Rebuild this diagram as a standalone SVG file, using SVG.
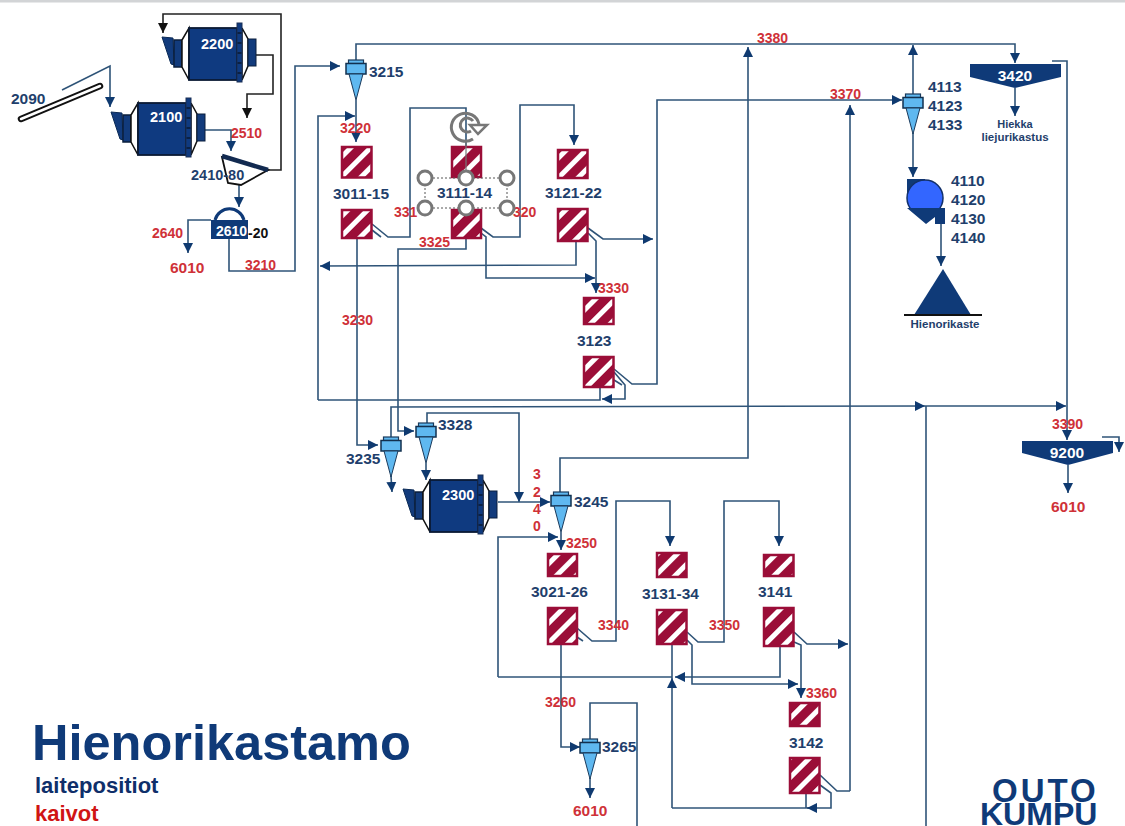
<svg xmlns="http://www.w3.org/2000/svg" width="1125" height="826" viewBox="0 0 1125 826">
<style>
text{font-family:"Liberation Sans",Arial,sans-serif;font-weight:bold}
.c{fill:none;stroke:#2f5478;stroke-width:1.6;stroke-linejoin:miter}
.a{marker-end:url(#a)}
.k{fill:none;stroke:#222;stroke-width:1.6}
.ka{marker-end:url(#k)}
.n{fill:#1f3f6c;font-size:15.5px}
.r{fill:#cf3138;font-size:14px}
.rb{fill:#cf3138;font-size:15.5px}
.w{fill:#fff;font-size:14.5px}
.t{fill:url(#h);stroke:#9b0e38;stroke-width:2.5}
.hd{fill:#fff;stroke:#777;stroke-width:3}
.th{fill:#0f3a78;stroke:none}
.m{text-anchor:middle}
</style>
<defs>
<marker id="a" markerUnits="userSpaceOnUse" markerWidth="11" markerHeight="11" refX="10" refY="5.5" orient="auto"><path d="M0,0.5 L10,5.5 L0,10.5z" fill="#0f3a70"/></marker>
<marker id="k" markerUnits="userSpaceOnUse" markerWidth="11" markerHeight="11" refX="10" refY="5.5" orient="auto"><path d="M0,0.5 L10,5.5 L0,10.5z" fill="#111"/></marker>
<pattern id="h" width="14" height="14" patternUnits="userSpaceOnUse" patternTransform="rotate(45)"><rect width="14" height="14" fill="#9b0e38"/><rect width="5" height="14" fill="#fff"/></pattern>
<g id="mill">
<path d="M111,112 L122,113 L123,140 L120,139z" fill="#123b7c" stroke="#0b2a55" stroke-width="1"/>
<rect x="123" y="115" width="8" height="27" fill="#123b7c" stroke="#0b1f3c" stroke-width="1.5"/>
<path d="M131,115 L138,103 L138,155 L131,142z" fill="#fff" stroke="#111" stroke-width="1.5"/>
<rect x="138" y="103" width="48" height="52" fill="#0f3a80" stroke="#0a1a33" stroke-width="1.8"/>
<path d="M191,103 L197,114 L197,141 L191,155z" fill="#fff" stroke="#111" stroke-width="1.5"/>
<rect x="197" y="114" width="8" height="27" fill="#123b7c" stroke="#0b1f3c" stroke-width="1"/>
<rect x="186" y="98" width="5" height="59" fill="#0f3a80" stroke="#1a2f55" stroke-width="1"/>
<path d="M186.5,108H190.5M186.5,118H190.5M186.5,128H190.5M186.5,138H190.5M186.5,148H190.5" stroke="#0a1a33" stroke-width="1.5"/>
</g>
<g id="cy">
<rect x="-7.5" y="0" width="15" height="3.5" fill="#5fb8f0" stroke="#1a3a5c" stroke-width="1.2"/>
<rect x="-10" y="3.5" width="20" height="10.5" fill="#5fb8f0" stroke="#12304f" stroke-width="1.5"/>
<path d="M-7,14 L7,14 L0,40z" fill="#5fb8f0" stroke="#1a3a5c" stroke-width="1"/>
</g>
</defs>
<rect width="1125" height="826" fill="#fff"/>
<rect width="1125" height="2.5" fill="#d2d4d6"/>

<g id="connectors">
<path class="c a" d="M62,90 L110,66 V107"/>
<path class="k ka" d="M268,170 H281 V14 H163 V33"/>
<path class="k ka" d="M256,55 H273 V94 H247 V118"/>
<path class="c a" d="M205,130 H231 V151"/>
<path class="c a" d="M239,185 V207"/>
<path class="c a" d="M211,220 H188 V253"/>
<path class="c a" d="M229,239 V271 H295 V66 H340"/>
<path class="c a" d="M356,100 V142"/>
<path class="c a" d="M356,60 V44 H1015 V63"/>
<path class="c a" d="M850,791 V105"/>
<path class="c a" d="M318,400 V116 H355"/>
<path class="c" d="M600,387 V400 H318"/>
<path class="c a" d="M614,372 L625,385 V399 H602"/>
<path class="c" d="M614,380 L622,385"/>
<path class="c" d="M372,224 L388,237 H410 V108 H466 V148"/>
<path class="c" d="M372,230 L381,237"/>
<path class="c a" d="M481,228 L493,237 H520 V105 H574 V145"/>
<path class="c a" d="M466,238 V249 H398 V431 H414"/>
<path class="c a" d="M481,233 L486,237 V278 H595"/>
<path class="c a" d="M588,233 L596,241 V293"/>
<path class="c a" d="M588,228 L603,239 H653"/>
<path class="c a" d="M576,241 V265 L320,266"/>
<path class="c a" d="M357,238 V445 H378"/>
<path class="c a" d="M614,369 L632,384 H657 V100 H902"/>
<path class="c a" d="M391,437 V407 L925,406"/>
<path class="c a" d="M925,406 H1066"/>
<path class="c" d="M926,406 V826"/>
<path class="c a" d="M391,476 L392,492"/>
<path class="c a" d="M426,463 V480"/>
<path class="c a" d="M427,423 V413 H519 V502"/>
<path class="c a" d="M498,502 H550"/>
<path class="c a" d="M560,492 V458 H748 V47"/>
<path class="c a" d="M561,532 V550"/>
<path class="c a" d="M498,677 V537 H558"/>
<path class="c" d="M498,677 H672"/>
<path class="c a" d="M780,645 V677 H675"/>
<path class="c a" d="M577,628 L592,641 H616 V501 H670 V546"/>
<path class="c" d="M577,637 L583,641"/>
<path class="c a" d="M687,632 L698,642 H724 V501 H779 V546"/>
<path class="c a" d="M687,640 L692,645 V684 H798"/>
<path class="c a" d="M794,632 L807,644 H848"/>
<path class="c a" d="M794,642 L801,645 V698"/>
<path class="c a" d="M672,808 V678"/>
<path class="c" d="M672,644 V678"/>
<path class="c" d="M672,808 H812"/>
<path class="c" d="M806,793 V808"/>
<path class="c a" d="M820,785 L831,793 V808 H807"/>
<path class="c" d="M820,775 L837,791 H850"/>
<path class="c a" d="M561,644 V747 H580"/>
<path class="c a" d="M590,778 V798"/>
<path class="c" d="M590,739 V703 H637 V826"/>
<path class="c a" d="M913,94 V45"/>
<path class="c a" d="M913,133 V177"/>
<path class="c a" d="M941,224 V266"/>
<path class="c a" d="M1015,88 V116"/>
<path class="c a" d="M1052,61 H1067 V440"/>
<path class="c a" d="M1068,465 V493"/>
<path class="c a" d="M1102,437 H1119 V452"/>
</g>

<g id="n2090">
<path d="M21,119 L100,86" stroke="#111" stroke-width="6.5" stroke-linecap="round"/>
<path d="M21,119 L100,86" stroke="#fff" stroke-width="2.5" stroke-linecap="round"/>
<text class="n" x="11" y="104">2090</text>
</g>
<g id="n2200"><use href="#mill" x="51" y="-75"/><text class="w" x="201" y="49">2200</text></g>
<g id="n2100"><use href="#mill"/><text class="w" x="150" y="122">2100</text></g>
<g id="n2300"><use href="#mill" x="292" y="377"/><text class="w" x="442" y="500">2300</text></g>
<g id="n2410">
<path d="M222,157 L268,170 L241,185 L228,183z" fill="#fff" stroke="#111" stroke-width="1.8"/>
<path d="M222,156 L268,170" stroke="#122a50" stroke-width="4.5"/>
<text class="n" x="191" y="180" style="font-size:14.5px">2410-80</text>
</g>
<g id="n2610">
<path d="M215,220 A15,15 0 0 1 244,220" fill="none" stroke="#0f3a78" stroke-width="3"/>
<rect x="211" y="220" width="37" height="19" class="th"/>
<text class="w" x="216" y="236" style="font-size:14px">2610</text>
<text x="248" y="238" fill="#111" font-size="14">-20</text>
</g>
<g id="n3215"><use href="#cy" x="356" y="60"/><text class="n" x="369" y="77">3215</text></g>
<g id="n3235"><use href="#cy" x="391" y="437"/><text class="n" x="346" y="464">3235</text></g>
<g id="n3328"><use href="#cy" x="426" y="423"/><text class="n" x="438" y="430">3328</text></g>
<g id="n3245"><use href="#cy" x="561" y="492"/><text class="n" x="574" y="507">3245</text></g>
<g id="n3265"><use href="#cy" x="590" y="739"/><text class="n" x="602" y="752">3265</text></g>
<g id="n4113"><use href="#cy" x="913" y="94"/>
<text class="n" x="928" y="92">4113</text><text class="n" x="928" y="111">4123</text><text class="n" x="928" y="130">4133</text></g>

<g id="t3011"><rect class="t" x="342" y="147" width="29.5" height="30.5"/><rect class="t" x="342" y="210" width="29.5" height="28"/><text class="n" x="333" y="199">3011-15</text></g>
<g id="t3111"><rect class="t" x="452" y="147" width="29" height="30"/><rect class="t" x="452" y="210" width="29" height="28"/><text class="n" x="437" y="198">3111-14</text></g>
<g id="t3121"><rect class="t" x="558" y="150" width="29.5" height="28"/><rect class="t" x="558" y="209" width="29.5" height="32"/><text class="n" x="545" y="198">3121-22</text></g>
<g id="t3123"><rect class="t" x="584" y="298" width="29.5" height="26"/><rect class="t" x="584" y="357" width="29.5" height="30"/><text class="n" x="577" y="346">3123</text></g>
<g id="t3021"><rect class="t" x="548" y="554" width="29" height="22"/><rect class="t" x="548" y="608" width="29" height="36"/><text class="n" x="531" y="597">3021-26</text></g>
<g id="t3131"><rect class="t" x="657" y="553" width="29.5" height="24"/><rect class="t" x="657" y="610" width="29.5" height="34"/><text class="n" x="642" y="599">3131-34</text></g>
<g id="t3141"><rect class="t" x="764" y="555" width="29.5" height="21"/><rect class="t" x="764" y="608" width="29.5" height="38"/><text class="n" x="758" y="597">3141</text></g>
<g id="t3142"><rect class="t" x="790" y="703" width="29.5" height="23"/><rect class="t" x="790" y="758" width="29.5" height="35"/><text class="n" x="789" y="748">3142</text></g>

<g id="n3420"><path class="th" d="M970,64 H1061 V77 L1015,88 L970,77z"/><text class="w m" x="1015" y="81" style="font-size:15.5px">3420</text>
<text class="m" x="1015" y="128" fill="#1f3f6c" font-size="11">Hiekka</text><text class="m" x="1015" y="141" fill="#1f3f6c" font-size="11.5">liejurikastus</text></g>
<g id="n9200"><path class="th" d="M1022,441 H1113 V453 L1068,465 L1022,453z"/><text class="w m" x="1067" y="458" style="font-size:15.5px">9200</text></g>
<g id="n4110">
<rect x="907" y="179" width="18" height="19" fill="#0f3a78"/>
<circle cx="925" cy="198" r="18" fill="#3366ff" stroke="#12306a" stroke-width="1.5"/>
<path class="th" d="M907,208 H945 V224 H935 V217 L926,224z"/>
<text class="n" x="951" y="186">4110</text><text class="n" x="951" y="205">4120</text><text class="n" x="951" y="224">4130</text><text class="n" x="951" y="243">4140</text>
</g>
<g id="nHienorikaste">
<path class="th" d="M943,269 L971,315 H914z"/>
<path d="M904,315 H982" stroke="#111" stroke-width="2"/>
<text class="m" x="945" y="328" fill="#1f3f6c" font-size="11.5">Hienorikaste</text>
</g>

<g id="labels">
<text class="r" x="231" y="138">2510</text>
<text class="r" x="152" y="238">2640</text>
<text class="rb" x="170" y="273">6010</text>
<text class="r" x="245" y="270">3210</text>
<text class="r" x="340" y="133">3220</text>
<text class="r" x="342" y="325">3230</text>
<text class="r" x="394" y="217">331</text>
<text class="r" x="513" y="217">320</text>
<text class="r" x="419" y="247">3325</text>
<text class="r" x="598" y="293">3330</text>
<text class="r" x="830" y="99">3370</text>
<text class="r" x="757" y="43">3380</text>
<text class="r" x="1052" y="429">3390</text>
<text class="rb" x="1051" y="512">6010</text>
<text class="r m" x="537" y="479">3</text><text class="r m" x="537" y="497">2</text><text class="r m" x="537" y="514">4</text><text class="r m" x="537" y="531">0</text>
<text class="r" x="566" y="548">3250</text>
<text class="r" x="598" y="630">3340</text>
<text class="r" x="709" y="630">3350</text>
<text class="r" x="806" y="698">3360</text>
<text class="r" x="545" y="707">3260</text>
<text class="rb" x="573" y="816">6010</text>
</g>

<g id="selection">
<rect x="425" y="178" width="82" height="30" fill="none" stroke="#555" stroke-width="1" stroke-dasharray="2 2"/>
<path d="M466,141 V178" stroke="#777" stroke-width="1.2"/>
<circle class="hd" cx="425" cy="178" r="7"/><circle class="hd" cx="466" cy="178" r="7"/><circle class="hd" cx="507" cy="178" r="7"/>
<circle class="hd" cx="425" cy="208" r="7"/><circle class="hd" cx="466" cy="208" r="7"/><circle class="hd" cx="507" cy="208" r="7"/>
<path d="M479,124 A14,14 0 1 0 473,139" fill="none" stroke="#777" stroke-width="3"/>
<path d="M471,131 A7,7 0 1 1 473,121" fill="none" stroke="#777" stroke-width="3"/>
<path d="M470,125 H487 L478,134z" fill="#fff" stroke="#777" stroke-width="2.5"/>
</g>

<g id="title">
<text x="32" y="760" font-size="50.5" fill="#0f3a78">Hienorikastamo</text>
<text x="35" y="793" font-size="22" fill="#0f2f6a">laitepositiot</text>
<text x="35" y="821" font-size="22" fill="#d01414">kaivot</text>
</g>
<g id="logo" fill="#0f3a78">
<text x="992" y="802" font-size="33" letter-spacing="3">OUTO</text>
<text x="980" y="825" font-size="32">KUMPU</text>
</g>
</svg>
